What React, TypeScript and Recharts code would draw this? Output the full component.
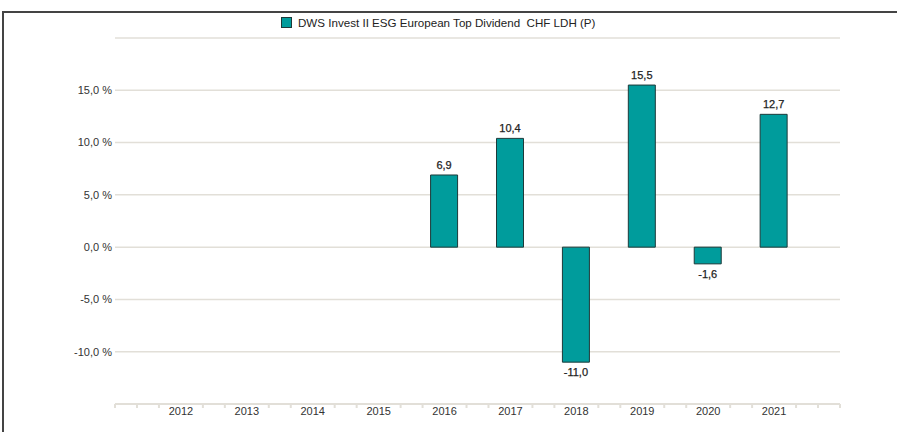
import React from "react";
import {
  BarChart,
  Bar,
  XAxis,
  YAxis,
  CartesianGrid,
  LabelList,
} from "recharts";

const SERIES_NAME = "DWS Invest II ESG European Top Dividend  CHF LDH (P)";

const years = [2012, 2013, 2014, 2015, 2016, 2017, 2018, 2019, 2020, 2021];
const returns: (number | null)[] = [null, null, null, null, 6.9, 10.4, -11.0, 15.5, -1.6, 12.7];

const yTicks = [-15, -10, -5, 0, 5, 10, 15, 20];
const hiddenYLabels = [-15, 20];

const X_MIN = 2011;
const X_MAX = 2022;

const TEAL = "#009c9c";
const BAR_BORDER = "#1d3a3a";
const GRID = "#e2dfd8";
const TEXT = "#333333";
const FONT = "'Liberation Sans', Arial, sans-serif";

const data = years.map((year, i) => ({ year, value: returns[i] }));

// minor ticks every third of a year, labels sit on the whole years
const xTicks: number[] = [];
for (let k = 0; k <= (X_MAX - X_MIN) * 3; k++) xTicks.push(X_MIN + k / 3);

const fmt = (v: number) => v.toFixed(1).replace(".", ",");

function XTick({ x, y, payload }: any) {
  const v = payload.value as number;
  const rounded = Math.round(v);
  const isYear = Math.abs(v - rounded) < 1e-6 && years.includes(rounded);
  if (isYear) {
    return (
      <text x={x} y={y + 11} textAnchor="middle" fill={TEXT} fontSize={11} fontFamily={FONT}>
        {rounded}
      </text>
    );
  }
  return <line x1={x} x2={x} y1={y} y2={y + 4} stroke={GRID} strokeWidth={2} />;
}

function ValueLabel(props: any) {
  const { x, y, width, height, value } = props;
  if (value == null) return null;
  const neg = value < 0;
  const top = Math.min(y, y + height);
  const bottom = Math.max(y, y + height);
  return (
    <text
      x={x + width / 2}
      y={neg ? bottom + 14 : top - 6}
      textAnchor="middle"
      fill="#222"
      fontSize={11}
      fontFamily={FONT}
      stroke="#222"
      strokeWidth={0.25}
    >
      {fmt(value)}
    </text>
  );
}

export default function App() {
  return (
    <div
      style={{
        position: "absolute",
        left: 0,
        top: 0,
        width: 897,
        height: 432,
        background: "#fff",
        fontFamily: FONT,
      }}
    >
      {/* frame */}
      <div
        style={{
          position: "absolute",
          left: 2,
          top: 11,
          right: 0,
          bottom: 0,
          borderLeft: "2px solid #444",
          borderTop: "2px solid #444",
        }}
      />
      {/* legend */}
      <div
        style={{
          position: "absolute",
          left: 281,
          top: 16,
          display: "flex",
          alignItems: "center",
          fontSize: 11.6,
          color: "#222",
          whiteSpace: "pre",
        }}
      >
        <span
          style={{
            display: "inline-block",
            width: 9,
            height: 9,
            background: TEAL,
            border: `1px solid ${BAR_BORDER}`,
            marginRight: 6,
          }}
        />
        {SERIES_NAME}
      </div>
      <BarChart
        width={897}
        height={432}
        data={data}
        margin={{ top: 38, right: 57, bottom: 0, left: 0 }}
        style={{ position: "absolute", left: 0, top: 0 }}
      >
        <CartesianGrid vertical={false} stroke={GRID} strokeWidth={1.5} />
        <XAxis
          dataKey="year"
          type="number"
          domain={[X_MIN, X_MAX]}
          ticks={xTicks}
          interval={0}
          height={28}
          tickSize={0}
          tickMargin={0}
          tickLine={false}
          axisLine={{ stroke: GRID, strokeWidth: 2 }}
          tick={<XTick />}
        />
        <YAxis
          domain={[-15, 20]}
          ticks={yTicks}
          width={115}
          tickSize={3}
          tickMargin={0}
          tickLine={false}
          axisLine={false}
          tick={{ fill: TEXT, fontSize: 11, fontFamily: FONT }}
          tickFormatter={(v: number) => (hiddenYLabels.includes(v) ? "" : `${fmt(v)} %`)}
        />
        <Bar
          dataKey="value"
          barSize={27}
          fill={TEAL}
          stroke={BAR_BORDER}
          strokeWidth={1}
          isAnimationActive={false}
        >
          <LabelList dataKey="value" content={<ValueLabel />} />
        </Bar>
      </BarChart>
    </div>
  );
}
